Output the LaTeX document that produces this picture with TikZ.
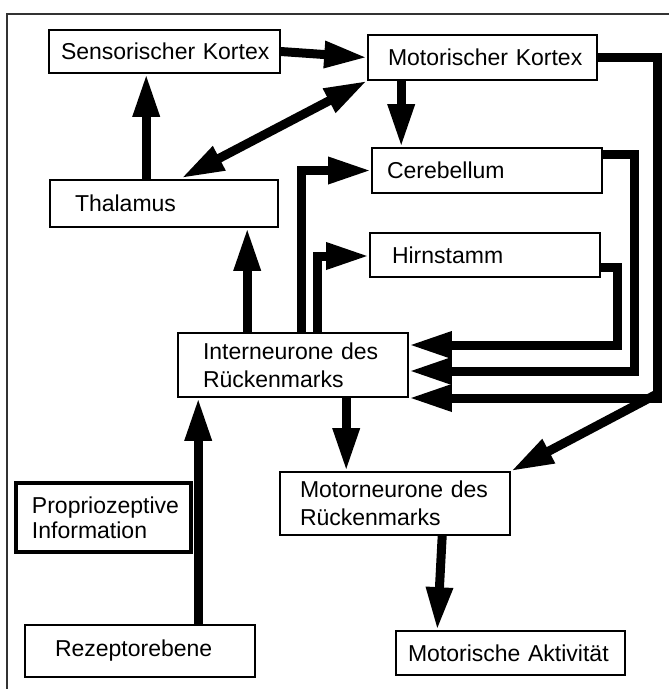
\documentclass[tikz,border=0pt]{standalone}
\usepackage{fontspec}
\setmainfont{Liberation Sans}
\usetikzlibrary{arrows.meta,calc}
\tikzset{
  box/.style={draw=black, line width=1.6pt, fill=white, inner xsep=0pt, inner ysep=0pt,
    align=left, font=\fontsize{23}{28}\selectfont},
  pbox/.style={box, line width=4pt},
  conn/.style={line width=9pt, line join=miter},
  arr/.style={conn, -{Triangle[length=43pt,width=25pt]}},
  darr/.style={conn, {Triangle[length=43pt,width=25pt]}-{Triangle[length=43pt,width=25pt]}},
  frame/.style={line width=1.2pt, draw=black!80}
}
\begin{document}
\begin{tikzpicture}[x=1pt,y=-1pt]
\useasboundingbox (0,0) rectangle (669,689);
\draw[frame] (7,689) -- (7,14) -- (669,14);

\node[box, minimum width=231pt, minimum height=43pt, text width=231pt] (sens) at (164.5,51.5) {\hspace*{12pt}Sensorischer Kortex};
\node[box, minimum width=229pt, minimum height=45pt, text width=229pt] (motor) at (482.5,57.5) {\hspace*{20pt}Motorischer Kortex};
\node[box, minimum width=230pt, minimum height=45pt, text width=230pt] (cereb) at (487,170.5) {\hspace*{15pt}Cerebellum};
\node[box, minimum width=230pt, minimum height=44pt, text width=230pt] (hirn) at (485,255) {\hspace*{22pt}Hirnstamm};
\node[box, minimum width=228pt, minimum height=47pt, text width=228pt] (thal) at (164,203.5) {\hspace*{25pt}Thalamus};
\node[box, minimum width=230pt, minimum height=64pt, text width=230pt] (inter) at (293,365) {\hspace*{25pt}Interneurone des\\\hspace*{25pt}Rückenmarks};
\node[box, minimum width=230pt, minimum height=63pt, text width=230pt] (motn) at (395,503.5) {\hspace*{20pt}Motorneurone des\\\hspace*{20pt}Rückenmarks};
\node[pbox, minimum width=175pt, minimum height=69pt, text width=175pt, font=\fontsize{23}{25}\selectfont] (prop) at (103.5,517.5) {\hspace*{16pt}Propriozeptive\\\hspace*{16pt}Information};
\node[box, minimum width=230pt, minimum height=52pt, text width=230pt] (rez) at (140,651) {\hspace*{30pt}Rezeptorebene};
\node[box, minimum width=229pt, minimum height=44pt, text width=229pt] (akt) at (510.5,653) {\hspace*{12pt}Motorische Aktivität};

% helper coordinates
\coordinate (jr) at (657,398);
\coordinate (cr) at (634,371);
\coordinate (hr) at (617,345);
\coordinate (xts) at ($(sens.south west)+(98,0)$);
\coordinate (xmc) at ($(motor.south west)+(34,0)$);
\coordinate (xic) at ($(inter.north west)+(124,0)$);
\coordinate (xih) at ($(inter.north west)+(140,0)$);
\coordinate (xit) at ($(inter.north west)+(70,0)$);
\coordinate (xim) at ($(inter.south west)+(169,0)$);
\coordinate (xri) at ($(rez.north west)+(174,0)$);
\coordinate (xma) at ($(motn.south west)+(163,0)$);
\coordinate (xak) at ($(akt.north west)+(42,0)$);
\coordinate (xtm) at ($(thal.north west)+(132,-1)$);
\coordinate (ceo) at ($(cereb.north east)+(0,7)$);
\coordinate (hio) at ($(hirn.south east)+(0,-10)$);
\coordinate (hii) at ($(hirn.west)+(0,1)$);
\coordinate (jd) at ($(jr)+(0,-4)$);

% top region
\draw[arr] (sens.east) -- (motor.west);
\draw[arr] (xts |- thal.north) -- (xts);
\draw[darr] (xtm) -- (motor.south west);
\draw[arr] (xmc) -- (xmc |- cereb.north);

% feedback to interneurons
\draw[arr] (motor.east) -| (jr) -- (inter.east |- jr);
\draw[arr] (jd) -- (motn.north east);
\draw[arr] (ceo) -| (cr) -- (inter.east |- cr);
\draw[arr] (hio) -| (hr) -- (inter.east |- hr);

% from interneurons
\draw[arr] (xic) |- (cereb.west);
\draw[arr] (xih) |- (hii);
\draw[arr] (xit) -- (xit |- thal.south);
\draw[arr] (xim) -- (xim |- motn.north);

% bottom
\draw[arr] (xri) -- (xri |- inter.south);
\draw[arr] (xma) -- (xak);
\end{tikzpicture}
\end{document}
